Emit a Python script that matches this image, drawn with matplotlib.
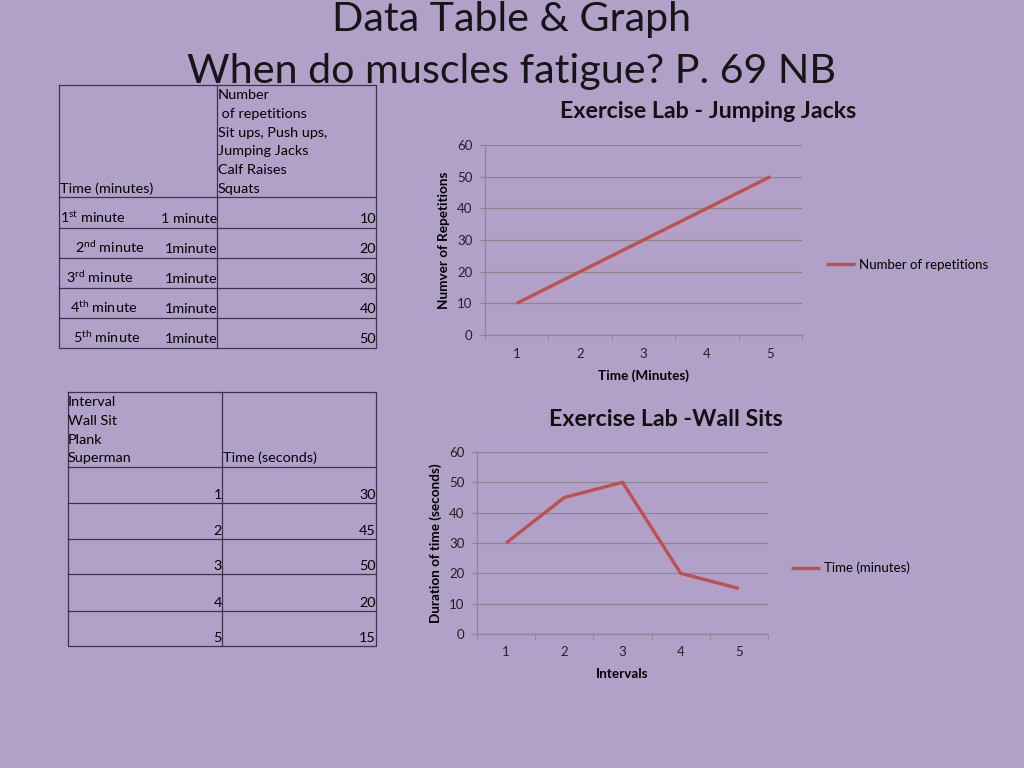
import matplotlib
matplotlib.use('Agg')
import matplotlib.pyplot as plt

plt.rcParams['font.family'] = ['Lato', 'DejaVu Sans']
plt.rcParams['mathtext.fontset'] = 'custom'
plt.rcParams['mathtext.rm'] = 'Lato'

# slide texts
title_lines = ['Data Table & Graph', 'When do muscles fatigue? P. 69 NB']

# table 1 / chart 1 data
rep_header = ['Number', ' of repetitions', 'Sit ups, Push ups,', 'Jumping Jacks', 'Calf Raises', 'Squats']
minute_labels = [r'$\mathregular{1^{st}}$ minute', r'$\mathregular{2^{nd}}$ minute',
                 r'$\mathregular{3^{rd}}$ minute', r'$\mathregular{4^{th}}$ minute',
                 r'$\mathregular{5^{th}}$ minute']
duration_labels = ['1 minute', '1minute', '1minute', '1minute', '1minute']
minutes = [1, 2, 3, 4, 5]
reps = [10, 20, 30, 40, 50]

# table 2 / chart 2 data
interval_header = ['Interval', 'Wall Sit', 'Plank', 'Superman']
intervals = [1, 2, 3, 4, 5]
wall_secs = [30, 45, 50, 20, 15]

bg = '#b1a1c9'
red = '#c0504d'
gray = '#8a8690'
W, H = 1024, 768


def px_rect(l, t, r, b):
    return [l / W, 1 - b / H, (r - l) / W, (b - t) / H]


fig = plt.figure(figsize=(10.24, 7.68), dpi=100, facecolor=bg)
ov = fig.add_axes([0, 0, 1, 1])
ov.set_xlim(0, W)
ov.set_ylim(H, 0)
ov.axis('off')

ov.text(512, 20, title_lines[0], ha='center', va='center', fontsize=29.7, color='#161616')
ov.text(512, 72, title_lines[1], ha='center', va='center', fontsize=29.7, color='#161616')

lc = '#3a3350'
tfs = 10.4

# ---- table 1
l, m, r = 59, 217, 376
rows1 = [197, 228, 258, 288, 318, 348]
ov.plot([l, r, r, l, l], [85, 85, 348, 348, 85], color=lc, lw=0.9)
ov.plot([m, m], [85, 348], color=lc, lw=0.9)
for y in rows1[:-1]:
    ov.plot([l, r], [y, y], color=lc, lw=0.9)
for i, s in enumerate(rep_header):
    ov.text(218, 99 + i * 18.8, s, ha='left', va='baseline', fontsize=tfs)
ov.text(60, 193, 'Time (minutes)', ha='left', va='baseline', fontsize=tfs)
indent = [60, 75, 66, 70, 73]
for i in range(5):
    yb = rows1[i + 1] - 5
    ov.text(indent[i], yb, minute_labels[i], ha='left', va='baseline', fontsize=tfs)
    ov.text(m, yb, duration_labels[i], ha='right', va='baseline', fontsize=tfs)
    ov.text(r, yb, str(reps[i]), ha='right', va='baseline', fontsize=tfs)

# ---- table 2
l, m, r = 68, 222, 376
rows2 = [467, 503, 539, 574, 611, 646]
ov.plot([l, r, r, l, l], [392, 392, 646, 646, 392], color=lc, lw=0.9)
ov.plot([m, m], [392, 646], color=lc, lw=0.9)
for y in rows2[:-1]:
    ov.plot([l, r], [y, y], color=lc, lw=0.9)
for i, s in enumerate(interval_header):
    ov.text(68, 406 + i * 18.8, s, ha='left', va='baseline', fontsize=tfs)
ov.text(223, 462, 'Time (seconds)', ha='left', va='baseline', fontsize=tfs)
for i in range(5):
    yb = rows2[i + 1] - 4
    ov.text(m, yb, str(intervals[i]), ha='right', va='baseline', fontsize=tfs)
    ov.text(r, yb, str(wall_secs[i]), ha='right', va='baseline', fontsize=tfs)


def style_chart(ax, xs):
    ax.set_facecolor('none')
    ax.set_xlim(0.5, 5.5)
    ax.set_ylim(0, 60)
    ax.set_yticks(range(0, 61, 10))
    ax.set_xticks(xs)
    ax.set_xticks([x + 0.5 for x in [0] + list(xs)], minor=True)
    ax.tick_params(axis='x', which='major', length=0, pad=9, labelsize=9.5, colors='#222222')
    ax.tick_params(axis='x', which='minor', length=4, color=gray, direction='out')
    ax.tick_params(axis='y', length=4, color=gray, pad=5, labelsize=9.5, labelcolor='#222222')
    ax.grid(axis='y', color=gray, lw=0.9)
    ax.set_axisbelow(True)
    for s in ['top', 'right']:
        ax.spines[s].set_visible(False)
    for s in ['left', 'bottom']:
        ax.spines[s].set_color(gray)
        ax.spines[s].set_linewidth(0.9)


# ---- chart 1
ax1 = fig.add_axes(px_rect(485, 145, 802, 335))
ax1.plot(minutes, reps, color=red, lw=2.4, label='Number of repetitions', solid_capstyle='butt')
style_chart(ax1, minutes)
ax1.set_xlabel('Time (Minutes)', fontsize=9.7, fontweight='bold', labelpad=7)
ax1.set_ylabel('Numver of Repetitions', fontsize=9.7, fontweight='bold', labelpad=5)
ov.text(708, 112, 'Exercise Lab - Jumping Jacks', ha='center', va='center',
        fontsize=16.7, fontweight='bold', color='#111111')
ax1.legend(loc='center left', bbox_to_anchor=(821 / W, 1 - 265 / H), bbox_transform=fig.transFigure,
           frameon=False, fontsize=9.5, handlelength=2.2, handletextpad=0.3, borderaxespad=0)

# ---- chart 2
ax2 = fig.add_axes(px_rect(477, 452, 768, 634))
ax2.plot(intervals, wall_secs, color=red, lw=2.4, label='Time (minutes)', solid_capstyle='butt')
style_chart(ax2, intervals)
ax2.set_xlabel('Intervals', fontsize=9.7, fontweight='bold', labelpad=7)
ax2.set_ylabel('Duration of time (seconds)', fontsize=9.7, fontweight='bold', labelpad=5)
ov.text(666, 420, 'Exercise Lab -Wall Sits', ha='center', va='center',
        fontsize=16.7, fontweight='bold', color='#111111')
ax2.legend(loc='center left', bbox_to_anchor=(786 / W, 1 - 568 / H), bbox_transform=fig.transFigure,
           frameon=False, fontsize=9.5, handlelength=2.2, handletextpad=0.3, borderaxespad=0)

fig.savefig('out.png', dpi=100, facecolor=bg)
